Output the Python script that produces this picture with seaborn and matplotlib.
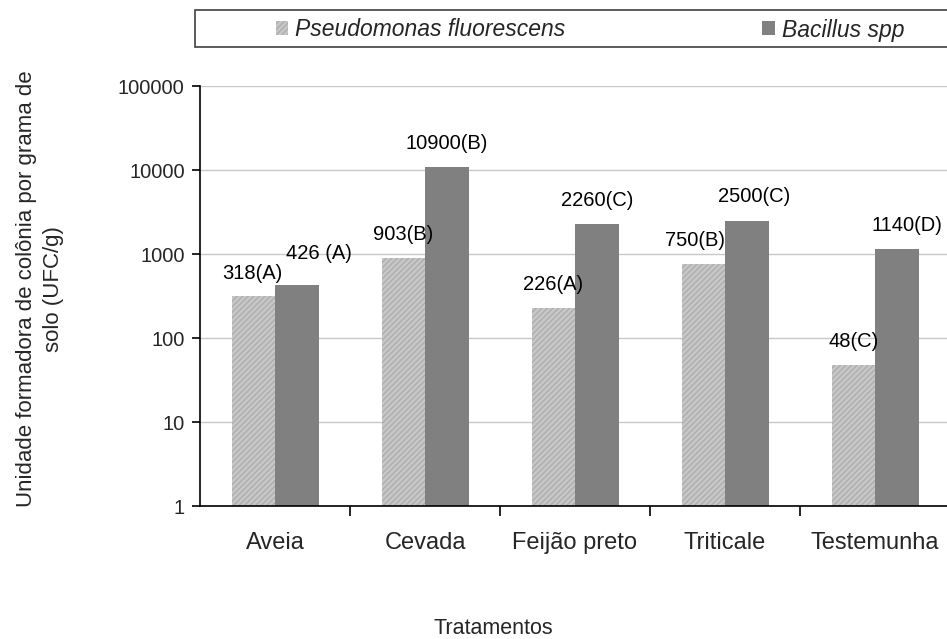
import pandas as pd
import matplotlib
matplotlib.use("Agg")
import matplotlib.pyplot as plt
from matplotlib.patches import Rectangle
from matplotlib.ticker import NullLocator, FixedLocator, FuncFormatter
import seaborn as sns

# data
tratamentos = ["Aveia", "Cevada", "Feijão preto", "Triticale", "Testemunha"]
pseudomonas = [318, 903, 226, 750, 48]
bacillus = [426, 10900, 2260, 2500, 1140]
rotulos_pseudo = ["318(A)", "903(B)", "226(A)", "750(B)", "48(C)"]
rotulos_bac = ["426 (A)", "10900(B)", "2260(C)", "2500(C)", "1140(D)"]
series = ["Pseudomonas fluorescens", "Bacillus spp"]
yticks = [1, 10, 100, 1000, 10000, 100000]

df = pd.DataFrame({
    "Tratamentos": tratamentos * 2,
    "UFC": pseudomonas + bacillus,
    "Serie": [series[0]] * 5 + [series[1]] * 5,
})

sns.set_theme(style="white")
plt.rcParams["font.family"] = ["Liberation Sans", "DejaVu Sans"]
plt.rcParams["hatch.linewidth"] = 0.7

fig = plt.figure(figsize=(9.47, 6.39), dpi=100)
ax = fig.add_axes([200 / 947, 133 / 639, 750 / 947, 420 / 639])
ax.set_yscale("log", nonpositive="clip")

sns.barplot(data=df, x="Tratamentos", y="UFC", hue="Serie", order=tratamentos,
            hue_order=series, palette=["#c6c6c6", "#808080"], width=0.58,
            saturation=1, legend=False, ax=ax)

# hatch the Pseudomonas bars
for bar in ax.containers[0]:
    bar.set_hatch("//////")
    bar.set_edgecolor("#a6a6a6")
    bar.set_linewidth(0)
for bar in ax.containers[1]:
    bar.set_linewidth(0)

ax.set_ylim(1, 100000)
ax.set_xlim(-0.5, 4.5)
ax.yaxis.set_major_locator(FixedLocator(yticks))
ax.yaxis.set_minor_locator(NullLocator())
ax.yaxis.set_major_formatter(FuncFormatter(lambda v, p: f"{int(round(v))}"))
ax.grid(axis="y", color="#c8c8c8", linewidth=1)
ax.set_axisbelow(True)

for side in ["top", "right"]:
    ax.spines[side].set_visible(False)
for side in ["left", "bottom"]:
    ax.spines[side].set_color("black")
    ax.spines[side].set_linewidth(1.2)

ax.tick_params(axis="y", direction="out", length=6, width=1.2, color="black",
               labelsize=14.5, pad=5, left=True)
ax.tick_params(axis="x", which="major", length=0, labelsize=17, pad=19)
ax.set_xticks([i + 0.5 for i in range(len(tratamentos) - 1)], minor=True)
ax.tick_params(axis="x", which="minor", direction="out", length=7, width=1.2,
               color="black", bottom=True)
ax.set_xlabel("")
ax.set_ylabel("")

# value labels above the bars (offsets in points)
offs_pseudo = [(-1, 16), (0, 17), (0, 17), (-6, 17), (0, 17)]
offs_bac = [(16, 23), (0, 17), (0, 17), (5, 17), (7, 17)]
for cont, labs, offs in [(ax.containers[0], rotulos_pseudo, offs_pseudo),
                         (ax.containers[1], rotulos_bac, offs_bac)]:
    for bar, lab, (dx, dy) in zip(cont, labs, offs):
        xc = bar.get_x() + bar.get_width() / 2
        ax.annotate(lab, (xc, bar.get_height()), xytext=(dx, dy),
                    textcoords="offset points", ha="center", va="center",
                    fontsize=14.5, color="black", annotation_clip=False)

fig.text(40 / 947, 1 - 289 / 639,
         "Unidade formadora de colônia por grama de\nsolo (UFC/g)",
         rotation=90, ha="center", va="center", fontsize=16, linespacing=1.4)
fig.text(493 / 947, 1 - 628 / 639, "Tratamentos", ha="center", va="center",
         fontsize=15.5)

# legend box across the top
fig.patches.append(Rectangle((195 / 947, 1 - 47 / 639), 760 / 947, 37 / 639,
                             transform=fig.transFigure, facecolor="white",
                             edgecolor="#404040", linewidth=1.2))
h = [ax.containers[0][0], ax.containers[1][0]]
leg = fig.legend(h, series, loc="center", bbox_to_anchor=(590 / 947, 1 - 30 / 639),
                 ncol=2, frameon=False, handlelength=0.55, handleheight=0.55,
                 handletextpad=0.3, columnspacing=8.6,
                 prop={"style": "italic", "size": 16.5})

fig.savefig("out.png", dpi=100)
